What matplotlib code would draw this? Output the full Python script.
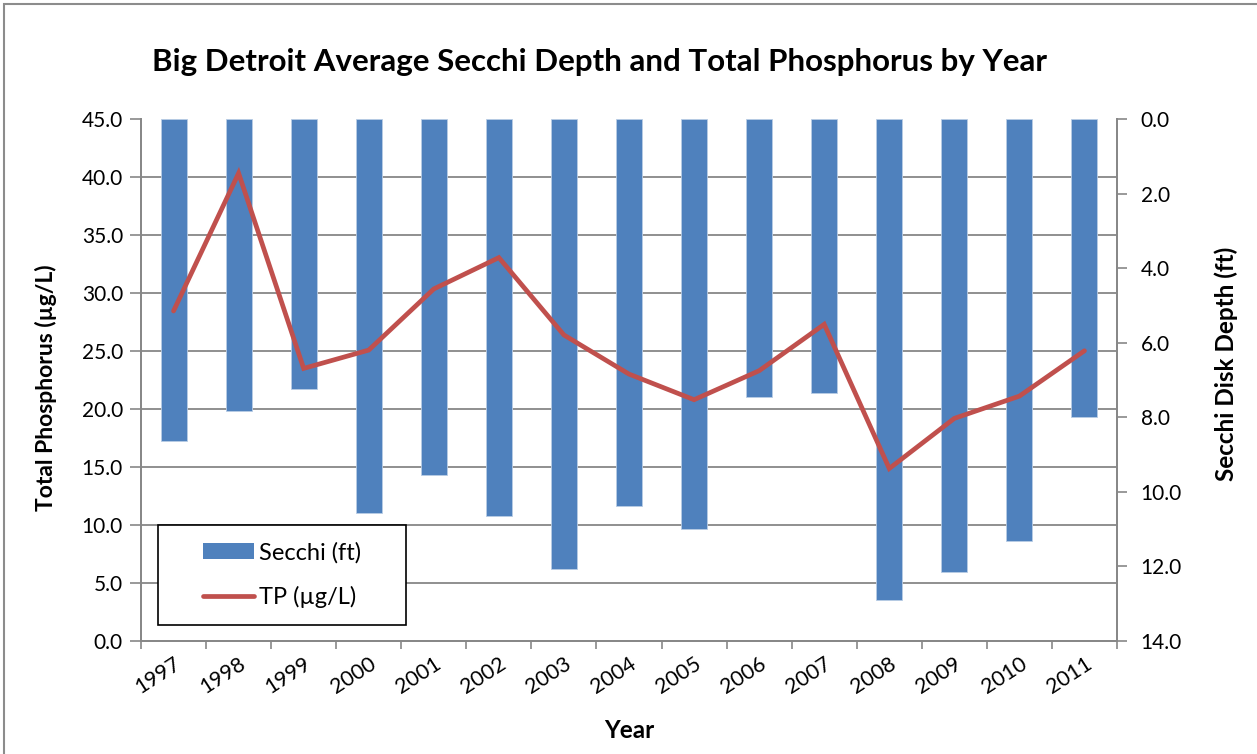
import numpy as np
import matplotlib
matplotlib.use("Agg")
import matplotlib.pyplot as plt
from matplotlib.patches import Rectangle, Patch
from matplotlib.lines import Line2D

plt.rcParams['font.family'] = ['Lato', 'DejaVu Sans']

years = ['1997', '1998', '1999', '2000', '2001', '2002', '2003', '2004',
         '2005', '2006', '2007', '2008', '2009', '2010', '2011']
secchi_ft = [8.63, 7.83, 7.25, 10.58, 9.56, 10.66, 12.07, 10.39,
             11.00, 7.46, 7.36, 12.91, 12.15, 11.31, 8.00]
tp_ugl = [28.45, 40.33, 23.50, 25.08, 30.35, 33.05, 26.38, 23.01,
          20.8, 23.30, 27.30, 14.87, 19.19, 21.11, 25.02]

bar_color = '#4F81BD'
line_color = '#C0504D'
grid_color = '#878787'
tick_fs = 15

fig = plt.figure(figsize=(12.57, 7.54), dpi=100)
ax_bar = fig.add_axes([141 / 1257, 1 - 641 / 754, 976 / 1257, 522 / 754])
ax_line = ax_bar.twinx()

x = np.arange(len(years))

# bars hang down from 0 on the inverted secchi axis
ax_bar.bar(x, secchi_ft, width=0.4, color=bar_color, edgecolor='#b9cde5',
           linewidth=0.6, zorder=3)
ax_bar.set_ylim(14, 0)
ax_bar.set_xlim(-0.5, len(years) - 0.5)
ax_bar.yaxis.tick_right()
ax_bar.set_yticks(np.arange(0, 15, 2))
ax_bar.set_yticklabels([f'{v:.1f}' for v in np.arange(0, 15, 2)])
# gridlines that match the TP ticks
ax_bar.set_yticks(np.linspace(0, 14, 10), minor=True)
ax_bar.grid(True, which='minor', axis='y', color=grid_color, linewidth=1.3, zorder=0)
ax_bar.tick_params(axis='y', which='minor', length=0)
ax_bar.tick_params(axis='y', which='major', length=7, width=1.2, color=grid_color,
                   labelsize=tick_fs, pad=10)

ax_bar.set_xticks(np.arange(-0.5, len(years), 1.0))
ax_bar.set_xticklabels([])
ax_bar.tick_params(axis='x', which='major', length=6, width=1.2, color=grid_color)
ax_bar.set_xticks(x, years, minor=True)
ax_bar.tick_params(axis='x', which='minor', length=0, labelsize=15.5, pad=9)
for lab in ax_bar.get_xticklabels(minor=True):
    lab.set_rotation(33)
    lab.set_ha('right')
    lab.set_va('top')
    lab.set_rotation_mode('anchor')

ax_line.plot(x, tp_ugl, color=line_color, linewidth=3.4, solid_capstyle='round',
             solid_joinstyle='miter', zorder=5)
ax_line.set_ylim(0, 45)
ax_line.yaxis.tick_left()
ax_line.yaxis.set_label_position('left')
ax_line.set_yticks(np.arange(0, 46, 5))
ax_line.set_yticklabels([f'{v:.1f}' for v in np.arange(0, 46, 5)])
ax_line.tick_params(axis='y', length=8, width=1.2, color=grid_color,
                    labelsize=tick_fs, pad=5)

for a in (ax_bar, ax_line):
    a.spines['top'].set_visible(False)
    for s in ('left', 'right', 'bottom'):
        a.spines[s].set_color(grid_color)
        a.spines[s].set_linewidth(1.3)

# legend box
ax_line.add_patch(Rectangle((17 / 976, 16 / 522), 248 / 976, 100 / 522,
                            transform=ax_line.transAxes, facecolor='white',
                            edgecolor='black', linewidth=1.2, zorder=6))
handles = [Patch(facecolor=bar_color, edgecolor='none'),
           Line2D([0], [0], color=line_color, linewidth=3.4, solid_capstyle='round')]
leg = ax_line.legend(handles, ['Secchi (ft)', 'TP (\u00b5g/L)'], loc='center',
                     bbox_to_anchor=(141 / 976, 66 / 522), frameon=False,
                     fontsize=17, handlelength=2.15, handleheight=0.7,
                     handletextpad=0.2, labelspacing=0.95)
leg.set_zorder(7)

fig.text(600 / 1257, 1 - 62 / 754,
         'Big Detroit Average Secchi Depth and Total Phosphorus by Year',
         ha='center', va='center', fontsize=22.5, fontweight='bold')
fig.text(46 / 1257, 1 - 388 / 754, 'Total Phosphorus (\u00b5g/L)', rotation=90,
         ha='center', va='center', fontsize=16.5, fontweight='bold')
fig.text(1226 / 1257, 1 - 364 / 754, 'Secchi Disk Depth (ft)', rotation=90,
         ha='center', va='center', fontsize=17.5, fontweight='bold')
fig.text(629 / 1257, 1 - 731 / 754, 'Year', ha='center', va='center',
         fontsize=17.5, fontweight='bold')

# chart area border
fig.patches.append(Rectangle((4 / 1257, -0.05), 1.1, 1.05 - 4 / 754,
                             transform=fig.transFigure, facecolor='none',
                             edgecolor='#8c8c8c', linewidth=1.5))

fig.savefig('out.png', dpi=100)
